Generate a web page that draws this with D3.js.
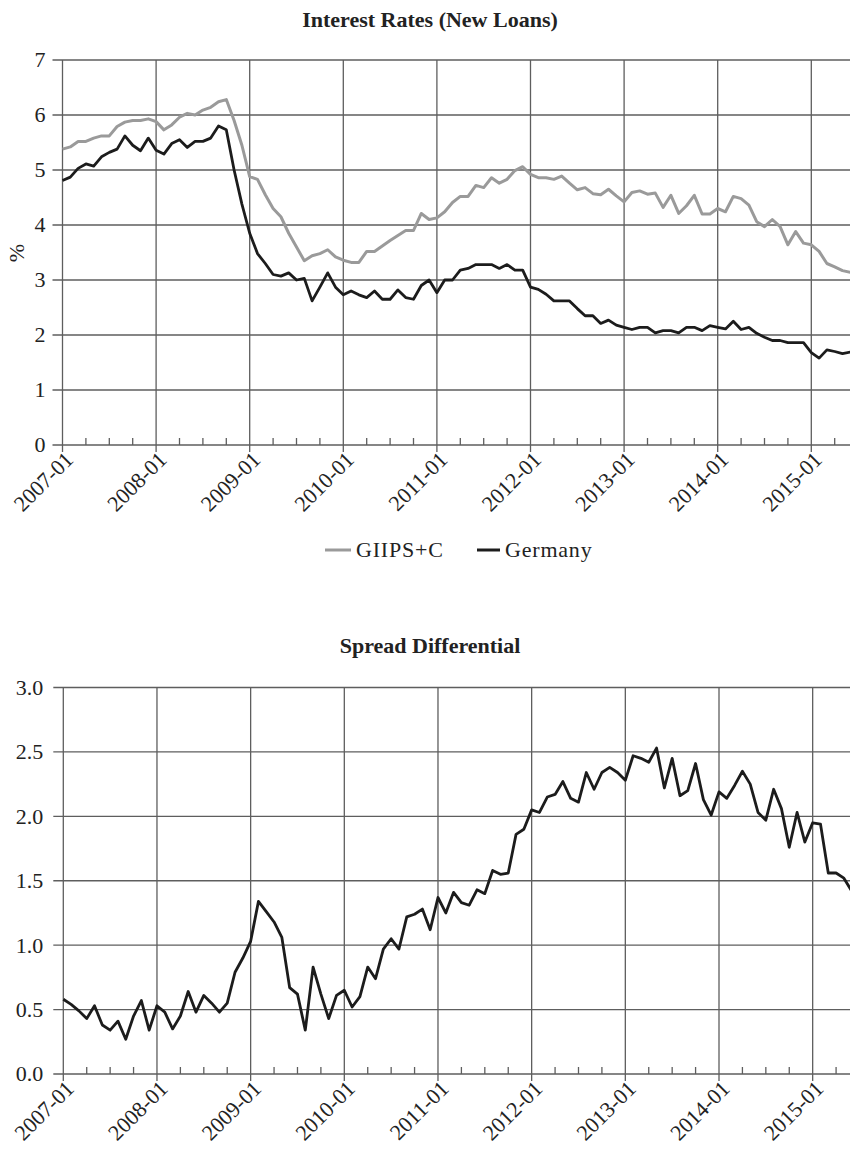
<!DOCTYPE html>
<html>
<head>
<meta charset="utf-8">
<script src="https://cdn.jsdelivr.net/npm/d3@7"></script>
<style>
  html, body { margin: 0; padding: 0; background: #fff; }
  svg { display: block; }
</style>
</head>
<body>
<svg id="chart" width="850" height="1150"></svg>
<script>
// ---- Data ----
const startMonth = new Date(2007, 0, 1);
const months = d3.timeMonth.range(startMonth, new Date(2015, 6, 1)).map(d3.timeFormat("%Y-%m")); // 2007-01 .. 2015-06

const yearTicks = ["2007-01","2008-01","2009-01","2010-01","2011-01","2012-01","2013-01","2014-01","2015-01"];
const rateTicks = [0, 1, 2, 3, 4, 5, 6, 7];
const spreadTicks = [0, 0.5, 1.0, 1.5, 2.0, 2.5, 3.0];

const giips = [5.38,5.42,5.52,5.52,5.58,5.62,5.62,5.79,5.87,5.90,5.90,5.93,
  5.88,5.73,5.82,5.96,6.03,6.00,6.09,6.14,6.24,6.28,5.90,5.45,
  4.88,4.83,4.55,4.30,4.15,3.85,3.60,3.35,3.44,3.48,3.55,3.42,
  3.36,3.32,3.32,3.52,3.52,3.62,3.72,3.81,3.90,3.90,4.21,4.10,
  4.13,4.24,4.41,4.52,4.52,4.72,4.68,4.86,4.76,4.83,4.99,5.06,
  4.92,4.86,4.86,4.83,4.89,4.76,4.64,4.68,4.57,4.55,4.65,4.53,
  4.42,4.59,4.62,4.56,4.58,4.32,4.54,4.21,4.35,4.54,4.20,4.20,
  4.30,4.24,4.52,4.48,4.36,4.06,3.97,4.10,3.97,3.64,3.88,3.67,
  3.64,3.52,3.30,3.24,3.17,3.14];

const germany = [4.81,4.87,5.03,5.11,5.07,5.24,5.32,5.38,5.62,5.45,5.35,5.58,
  5.36,5.29,5.48,5.55,5.41,5.52,5.52,5.58,5.80,5.73,5.00,4.38,
  3.85,3.48,3.30,3.10,3.07,3.13,3.00,3.03,2.62,2.87,3.13,2.87,
  2.73,2.80,2.73,2.68,2.80,2.65,2.65,2.82,2.68,2.65,2.90,3.00,
  2.77,3.00,3.00,3.18,3.21,3.28,3.28,3.28,3.21,3.28,3.18,3.18,
  2.87,2.83,2.74,2.62,2.62,2.62,2.48,2.35,2.35,2.21,2.27,2.18,
  2.14,2.10,2.14,2.14,2.04,2.08,2.08,2.04,2.14,2.14,2.08,2.17,
  2.14,2.11,2.25,2.10,2.14,2.03,1.96,1.90,1.90,1.86,1.86,1.86,
  1.68,1.58,1.73,1.70,1.66,1.69];

const spread = [0.58,0.54,0.49,0.43,0.53,0.38,0.34,0.41,0.27,0.45,0.57,0.34,
  0.53,0.48,0.35,0.45,0.64,0.48,0.61,0.55,0.48,0.55,0.79,0.90,
  1.03,1.34,1.26,1.18,1.06,0.67,0.62,0.34,0.83,0.62,0.43,0.61,
  0.65,0.52,0.60,0.83,0.74,0.97,1.05,0.97,1.22,1.24,1.28,1.12,
  1.37,1.25,1.41,1.33,1.31,1.43,1.40,1.58,1.55,1.56,1.86,1.90,
  2.05,2.03,2.15,2.17,2.27,2.14,2.11,2.34,2.21,2.34,2.38,2.34,
  2.28,2.47,2.45,2.42,2.53,2.22,2.45,2.16,2.20,2.41,2.13,2.01,
  2.19,2.14,2.24,2.35,2.25,2.03,1.97,2.21,2.06,1.76,2.03,1.80,
  1.95,1.94,1.56,1.56,1.52,1.42];

const seriesNames = ["GIIPS+C", "Germany"];
const seriesColors = ["#9a9a9a", "#1c1c1c"];

// ---- Drawing ----
const FONT = "'Liberation Serif', 'Times New Roman', serif";
const svg = d3.select("#chart").attr("font-family", FONT);
const gridColor = "#5e5e5e";
const txtColor = "#222";

function panel(opts) {
  const g = svg.append("g");
  const x = d3.scalePoint().domain(months).range(opts.xRange);
  const y = d3.scaleLinear().domain(opts.yDomain).range(opts.yRange);
  const y0 = y(opts.yDomain[0]);
  const yTop = y(opts.yDomain[1]);

  g.append("g").selectAll("line").data(opts.yTicks).join("line")
    .attr("x1", opts.xRange[0] - 10).attr("x2", 850)
    .attr("y1", d => y(d)).attr("y2", d => y(d))
    .attr("stroke", gridColor).attr("stroke-width", 1.3);

  g.append("g").selectAll("line").data(yearTicks).join("line")
    .attr("x1", d => x(d)).attr("x2", d => x(d))
    .attr("y1", yTop).attr("y2", y0 + 7)
    .attr("stroke", gridColor).attr("stroke-width", 1.3);

  const minor = months.filter((m, i) => i % 3 === 0 && !m.endsWith("-01"));
  g.append("g").selectAll("line").data(minor).join("line")
    .attr("x1", d => x(d)).attr("x2", d => x(d))
    .attr("y1", y0 - 7).attr("y2", y0)
    .attr("stroke", gridColor).attr("stroke-width", 1.3);

  g.append("g").selectAll("text").data(opts.yTicks).join("text")
    .attr("x", opts.xRange[0] - opts.yLabelGap).attr("y", d => y(d))
    .attr("dy", "0.34em")
    .attr("text-anchor", "end")
    .attr("font-family", FONT).attr("font-size", 22).attr("fill", txtColor)
    .text(d => opts.yFormat(d));

  g.append("g").selectAll("text").data(yearTicks).join("text")
    .attr("transform", d => `translate(${x(d) + 12},${y0 + 16}) rotate(-45)`)
    .attr("text-anchor", "end")
    .attr("font-family", FONT).attr("font-size", 22).attr("fill", txtColor)
    .text(d => d);

  g.append("text")
    .attr("x", 430).attr("y", opts.titleY)
    .attr("text-anchor", "middle")
    .attr("font-family", FONT).attr("font-size", 22).attr("font-weight", "bold").attr("fill", txtColor)
    .text(opts.title);

  const line = d3.line().x((d, i) => x(months[i])).y(d => y(d));
  opts.series.forEach(s => {
    g.append("path").datum(s.values)
      .attr("fill", "none")
      .attr("stroke", s.color)
      .attr("stroke-width", s.width)
      .attr("stroke-linejoin", "round")
      .attr("d", line);
  });
  return { x, y };
}

panel({
  xRange: [62.5, 850.3], yDomain: [0, 7], yRange: [445, 60],
  yTicks: rateTicks, yFormat: d3.format("d"), yLabelGap: 17,
  title: "Interest Rates (New Loans)", titleY: 27,
  series: [
    { values: giips, color: seriesColors[0], width: 3 },
    { values: germany, color: seriesColors[1], width: 2.8 }
  ]
});

svg.append("text")
  .attr("transform", "translate(24,253) rotate(-90)")
  .attr("text-anchor", "middle")
  .attr("font-family", FONT).attr("font-size", 22).attr("fill", txtColor)
  .text("%");

const legend = svg.append("g");
const legendItems = [
  { name: seriesNames[0], color: seriesColors[0], x0: 325, x1: 351, tx: 356 },
  { name: seriesNames[1], color: seriesColors[1], x0: 477, x1: 500, tx: 505 }
];
legendItems.forEach(it => {
  legend.append("line").attr("x1", it.x0).attr("x2", it.x1)
    .attr("y1", 550).attr("y2", 550)
    .attr("stroke", it.color).attr("stroke-width", 3);
  legend.append("text").attr("x", it.tx).attr("y", 557)
    .attr("font-family", FONT).attr("font-size", 22).attr("fill", txtColor)
    .attr("letter-spacing", 0.8)
    .text(it.name);
});

panel({
  xRange: [63.3, 851.7], yDomain: [0, 3], yRange: [1074, 687.5],
  yTicks: spreadTicks, yFormat: d3.format(".1f"), yLabelGap: 20,
  title: "Spread Differential", titleY: 653,
  series: [
    { values: spread, color: "#1c1c1c", width: 2.8 }
  ]
});
</script>
</body>
</html>
